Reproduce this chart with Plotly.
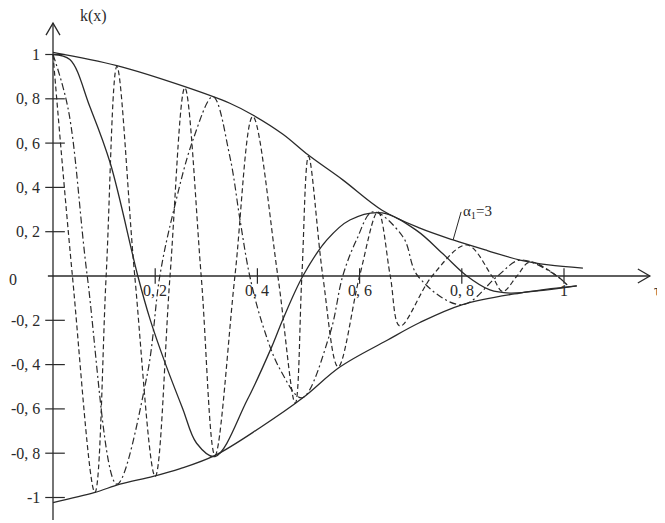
import plotly.graph_objects as go

# envelope curves
env_top_x = [0, 0.125, 0.258, 0.346, 0.391, 0.45, 0.499, 0.567, 0.644, 0.718, 0.783, 0.85, 0.914, 0.97, 1.037]
env_top_y = [1.01, 0.95, 0.855, 0.78, 0.727, 0.64, 0.547, 0.434, 0.297, 0.216, 0.163, 0.115, 0.072, 0.05, 0.036]
env_bot_x = [0, 0.082, 0.131, 0.196, 0.249, 0.317, 0.405, 0.489, 0.562, 0.654, 0.718, 0.80, 0.914, 1.025]
env_bot_y = [-1.023, -0.977, -0.94, -0.905, -0.87, -0.81, -0.685, -0.55, -0.41, -0.29, -0.21, -0.13, -0.077, -0.045]

# solid oscillation
solid_x = [0, 0.033, 0.072, 0.112, 0.166, 0.19, 0.219, 0.254, 0.281, 0.317, 0.38, 0.428, 0.45, 0.489,
           0.536, 0.581, 0.644, 0.712, 0.763, 0.81, 0.855, 0.894, 0.959, 1.025]
solid_y = [1.0, 0.977, 0.765, 0.51, 0, -0.196, -0.39, -0.6, -0.755, -0.815, -0.56, -0.32, -0.195, 0,
           0.163, 0.253, 0.285, 0.205, 0.10, 0, -0.063, -0.077, -0.065, -0.045]

# dash-dot oscillation
dashdot_x = [0, 0.03, 0.067, 0.125, 0.184, 0.209, 0.235, 0.274, 0.313, 0.346, 0.366, 0.385, 0.411, 0.444,
             0.487, 0.542, 0.567, 0.594, 0.626, 0.685, 0.714, 0.80, 0.87, 0.914, 0.978, 1.006]
dashdot_y = [1.0, 0.75, 0, -0.94, -0.45, 0, 0.285, 0.615, 0.81, 0.54, 0.253, 0, -0.226, -0.42,
             -0.55, -0.26, 0, 0.163, 0.29, 0.176, 0, -0.13, 0, 0.072, 0.013, -0.04]

# dashed oscillation
dashed_x = [0, 0.038, 0.082, 0.104, 0.125, 0.16, 0.2, 0.229, 0.258, 0.29, 0.317, 0.356, 0.391, 0.44,
            0.474, 0.487, 0.50, 0.528, 0.558, 0.60, 0.636, 0.66, 0.679, 0.742, 0.81, 0.859, 0.88, 0.908,
            0.933, 0.986, 1.006]
dashed_y = [1.0, 0, -0.977, 0, 0.946, 0, -0.905, 0, 0.85, 0, -0.81, 0, 0.72, 0,
            -0.575, 0, 0.54, 0, -0.41, 0, 0.29, 0, -0.226, 0, 0.14, 0, -0.07, 0,
            0.063, 0, -0.04]

x_ticks = [0.2, 0.4, 0.6, 0.8, 1.0]
x_tick_labels = ["0, 2", "0, 4", "0, 6", "0, 8", "1"]
y_ticks = [1, 0.8, 0.6, 0.4, 0.2, -0.2, -0.4, -0.6, -0.8, -1]
y_tick_labels = ["1", "0, 8", "0, 6", "0, 4", "0, 2", "-0, 2", "-0, 4", "-0, 6", "-0, 8", "-1"]

INK = "#2a2a2a"
FONT = "Liberation Serif"

# pixel scale of the plot (the page adds an 8px body margin)
PX_X = 511.0
PX_Y = 221.5
W, H = 657, 515
X0_PX, Y0_PX = 45, 268

x_axis_end, x_axis_start = 1.168, -0.01
y_axis_top, y_axis_bot = 1.142, -1.102

fig = go.Figure()

for xs, ys in [(env_top_x, env_top_y), (env_bot_x, env_bot_y)]:
    fig.add_trace(go.Scatter(x=xs, y=ys, mode="lines", line=dict(color=INK, width=1.3, shape="spline"),
                             showlegend=False, hoverinfo="skip"))

fig.add_trace(go.Scatter(x=solid_x, y=solid_y, mode="lines",
                         line=dict(color=INK, width=1.3, shape="spline"), showlegend=False))
fig.add_trace(go.Scatter(x=dashdot_x, y=dashdot_y, mode="lines",
                         line=dict(color=INK, width=1.2, shape="spline", dash="7px,3px,2px,3px"),
                         showlegend=False))
fig.add_trace(go.Scatter(x=dashed_x, y=dashed_y, mode="lines",
                         line=dict(color=INK, width=1.2, shape="spline", dash="5px,3px"),
                         showlegend=False))

# tick marks
fig.add_trace(go.Scatter(x=x_ticks, y=[0] * len(x_ticks), mode="markers",
                         marker=dict(symbol="line-ns", size=11, line=dict(color=INK, width=1.2)),
                         showlegend=False, hoverinfo="skip"))
fig.add_trace(go.Scatter(x=[0.004] * len(y_ticks), y=y_ticks, mode="markers",
                         marker=dict(symbol="line-ew", size=14, line=dict(color=INK, width=1.2)),
                         showlegend=False, hoverinfo="skip"))

# axes with open arrowheads
axis_line = dict(color=INK, width=1.3)
fig.add_shape(type="line", x0=x_axis_start, y0=0, x1=x_axis_end, y1=0, line=axis_line)
fig.add_shape(type="line", x0=0, y0=y_axis_bot, x1=0, y1=y_axis_top, line=axis_line)
ax_len, ax_half = 12, 7
fig.add_shape(type="path", line=axis_line,
              path=f"M {x_axis_end - ax_len / PX_X},{ax_half / PX_Y} L {x_axis_end},0 "
                   f"L {x_axis_end - ax_len / PX_X},{-ax_half / PX_Y}")
fig.add_shape(type="path", line=axis_line,
              path=f"M {-ax_half / PX_X},{y_axis_top - ax_len / PX_Y} L 0,{y_axis_top} "
                   f"L {ax_half / PX_X},{y_axis_top - ax_len / PX_Y}")

for t, lab in zip(x_ticks, x_tick_labels):
    fig.add_annotation(x=t, y=0, text=lab, showarrow=False, yshift=-14,
                       font=dict(family=FONT, size=16, color=INK))
for t, lab in zip(y_ticks, y_tick_labels):
    fig.add_annotation(x=0, y=t, text=lab, showarrow=False, xanchor="right", xshift=-11,
                       font=dict(family=FONT, size=16, color=INK))

fig.add_annotation(x=0, y=0, text="0", showarrow=False, xanchor="right", xshift=-34, yshift=-3,
                   font=dict(family=FONT, size=16, color=INK))
fig.add_annotation(x=0, y=y_axis_top, text="k(x)", showarrow=False, xanchor="left", xshift=25, yshift=7,
                   font=dict(family=FONT, size=16, color=INK))
fig.add_annotation(x=1, xref="paper", y=0, yref="y", text="τ", showarrow=False, xanchor="right",
                   xshift=-2, yshift=-14, font=dict(family=FONT, size=16, color=INK))
fig.add_annotation(x=0.783, y=0.163, ax=8, ay=-28, text="α<sub>1</sub>=3", showarrow=True,
                   arrowhead=0, arrowwidth=1, arrowcolor=INK, xanchor="left", standoff=0,
                   font=dict(family=FONT, size=15, color=INK))

fig.update_layout(
    width=W, height=H,
    margin=dict(l=0, r=0, t=0, b=0),
    plot_bgcolor="white", paper_bgcolor="white",
    xaxis=dict(range=[-X0_PX / PX_X, (W - X0_PX) / PX_X], visible=False),
    yaxis=dict(range=[-(H - Y0_PX) / PX_Y, Y0_PX / PX_Y], visible=False),
    showlegend=False,
)

fig.write_html("out.html")
